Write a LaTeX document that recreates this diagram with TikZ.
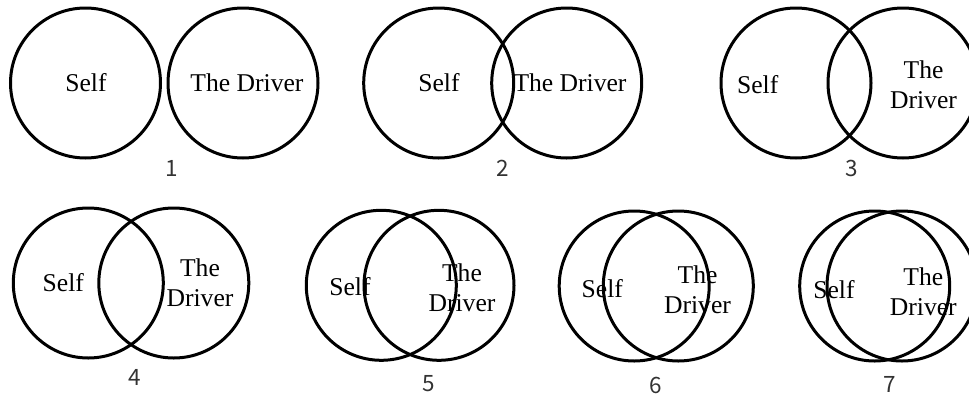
\documentclass[tikz,border=0pt]{standalone}
\usepackage{fontspec}
\setmainfont{Liberation Serif}
\newfontfamily\numfont{Noto Sans CJK SC}
\begin{document}
\begin{tikzpicture}[x=1pt,y=-1pt,
  ring/.style={circle,draw=black,line width=3pt,minimum size=150pt,inner sep=0pt},
  lbl/.style={font=\fontsize{25.6}{30}\selectfont,inner sep=0pt,align=center},
  num/.style={font=\numfont\fontsize{22.5}{24}\selectfont,text=black!80,inner sep=0pt}]
\useasboundingbox (0,0) rectangle (969,397);
\clip (0,0) rectangle (969,397);
% pair 1
\node[ring] (a1) at (85.5,83) {};
\node[ring] (b1) at (243,83) {};
\node[lbl] (sa1) at (86,83) {Self};
\node[lbl] (sb1) at (247,83) {The Driver};
\node[num] (n1) at (172,168) {1};
% pair 2
\node[ring] (a2) at (438.7,83) {};
\node[ring] (b2) at (566.7,83) {};
\node[lbl] (sa2) at (439,83) {Self};
\node[lbl] (sb2) at (570,83) {The Driver};
\node[num] (n2) at (503,168) {2};
% pair 3
\node[ring] (a3) at (796,83) {};
\node[ring] (b3) at (903,83) {};
\node[lbl] (sa3) at (757.7,85) {Self};
\node[lbl] (sb3) at (923.5,85) {The\\Driver};
\node[num] (n3) at (851.7,168) {3};
% pair 4
\node[ring] (a4) at (88.3,283) {};
\node[ring] (b4) at (173.8,283) {};
\node[lbl] (sa4) at (63.3,282.3) {Self};
\node[lbl] (sb4) at (200,282.5) {The\\Driver};
\node[num] (n4) at (135,377.7) {4};
% pair 5
\node[ring] (a5) at (381.3,285.3) {};
\node[ring] (b5) at (439,285.3) {};
\node[lbl] (sa5) at (350,286.7) {Self};
\node[lbl] (sb5) at (462,288) {The\\Driver};
\node[num] (n5) at (428.3,383.3) {5};
% pair 6
\node[ring] (a6) at (634.2,286) {};
\node[ring] (b6) at (678.3,286) {};
\node[lbl] (sa6) at (602.3,288.3) {Self};
\node[lbl] (sb6) at (697.5,289.7) {The\\Driver};
\node[num] (n6) at (656,385) {6};
% pair 7
\node[ring] (a7) at (874.7,286) {};
\node[ring] (b7) at (902,286) {};
\node[lbl] (sa7) at (834,289.3) {Self};
\node[lbl] (sb7) at (923.3,291.3) {The\\Driver};
\node[num] (n7) at (889.3,384.3) {7};
\end{tikzpicture}
\end{document}
